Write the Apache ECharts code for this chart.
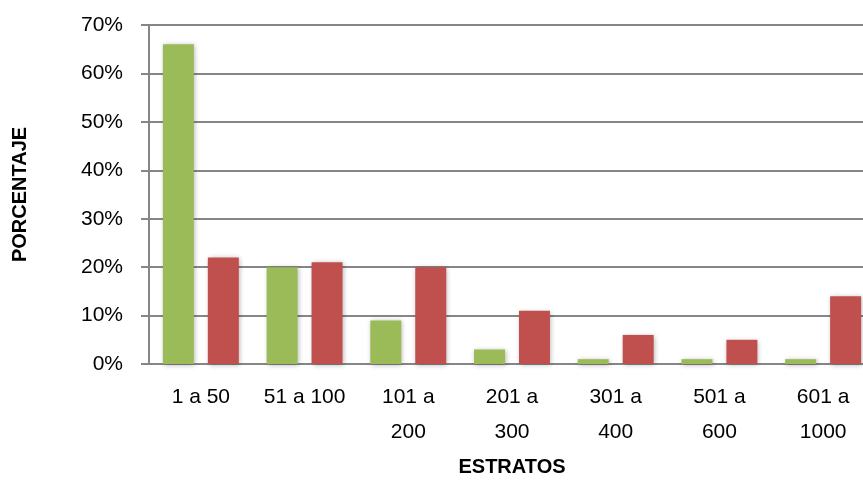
<!DOCTYPE html>
<html>
<head>
<meta charset="utf-8">
<script src="https://cdn.jsdelivr.net/npm/echarts@6/dist/echarts.min.js"></script>
<style>
  html, body { margin: 0; padding: 0; background: #fff; }
  #main { width: 863px; height: 481px; }
</style>
</head>
<body>
<div id="main"></div>
<script>
const categories = ['1 a 50', '51 a 100', '101 a\n200', '201 a\n300', '301 a\n400', '501 a\n600', '601 a\n1000']
const greenValues = [66, 20, 9, 3, 1, 1, 1]
const redValues = [22, 21, 20, 11, 6, 5, 14]
const yTicks = [0, 10, 20, 30, 40, 50, 60, 70]

const font = '"Liberation Sans", Arial, sans-serif'
const chart = echarts.init(document.getElementById('main'))

const barShadow = {
  shadowBlur: 5,
  shadowColor: 'rgba(0,0,0,0.3)',
  shadowOffsetX: 1,
  shadowOffsetY: 1
}

chart.setOption({
  animation: false,
  grid: {
    left: 149,
    width: 726,
    top: 25,
    bottom: 117,
    containLabel: false,
    outerBoundsMode: 'none'
  },
  xAxis: {
    type: 'category',
    data: categories,
    name: 'ESTRATOS',
    nameLocation: 'middle',
    nameGap: 93,
    nameTextStyle: { fontFamily: font, fontSize: 20, fontWeight: 'bold', color: '#000' },
    axisLine: { lineStyle: { color: '#868686', width: 2 } },
    axisTick: { show: false },
    axisLabel: {
      interval: 0,
      margin: 16,
      fontFamily: font,
      fontSize: 21,
      lineHeight: 35,
      color: '#000'
    }
  },
  yAxis: {
    type: 'value',
    min: yTicks[0],
    max: yTicks[yTicks.length - 1],
    interval: 10,
    name: 'PORCENTAJE',
    nameLocation: 'middle',
    nameGap: 119,
    nameTextStyle: { fontFamily: font, fontSize: 20, fontWeight: 'bold', color: '#000' },
    axisLine: { show: true, lineStyle: { color: '#868686', width: 2 } },
    axisTick: { show: true, length: 8, lineStyle: { color: '#868686', width: 2 } },
    splitLine: { lineStyle: { color: '#868686', width: 2 } },
    axisLabel: {
      margin: 26,
      fontFamily: font,
      fontSize: 21,
      color: '#000',
      formatter: v => v + '%'
    }
  },
  series: [
    {
      type: 'bar',
      data: greenValues,
      barWidth: 31,
      barGap: '45%',
      itemStyle: Object.assign({ color: '#9BBB59' }, barShadow)
    },
    {
      type: 'bar',
      data: redValues,
      barWidth: 31,
      itemStyle: Object.assign({ color: '#C0504D' }, barShadow)
    }
  ]
})

window.addEventListener('resize', function () {
  chart.resize()
})
</script>
</body>
</html>
